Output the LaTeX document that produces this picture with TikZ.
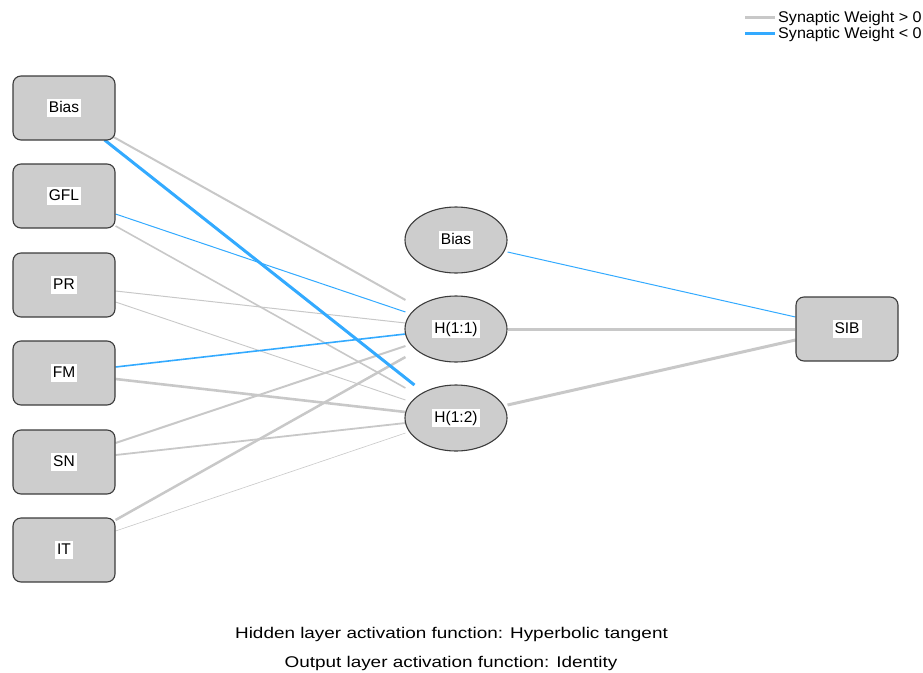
\documentclass[tikz,border=0pt]{standalone}
\usepackage{fontspec}
\setmainfont{Liberation Sans}
\usepackage{graphicx}
\usetikzlibrary{calc,shapes.geometric}
\pgfdeclarelayer{bg}
\pgfsetlayers{bg,main}
\definecolor{nodefill}{RGB}{205,205,205}
\definecolor{nodeline}{RGB}{60,60,60}
\definecolor{poscol}{RGB}{200,200,200}
\definecolor{negcol}{RGB}{51,170,255}
\newcommand{\nlab}[1]{{\setlength{\fboxsep}{2pt}\colorbox{white}{\fontsize{15.5}{17}\selectfont\rule[-3pt]{0pt}{14pt}#1}}}
\tikzset{
  inbox/.style={draw=nodeline, fill=nodefill, line width=1.1pt, rounded corners=8pt,
    minimum width=102pt, minimum height=64pt, inner sep=0pt},
  hidnode/.style={ellipse, draw=nodeline, fill=nodefill, line width=1.1pt,
    minimum width=102pt, minimum height=66pt, inner sep=0pt},
  poswt/.style={draw=poscol},
  negwt/.style={draw=negcol},
  captxt/.style={inner sep=0pt, font=\fontsize{15.5}{18}\selectfont}
}
\begin{document}
\begin{tikzpicture}[x=1pt,y=-1pt]
\useasboundingbox (0,0) rectangle (923,672);
% input layer
\node[inbox] (iBias) at (64,108) {\nlab{Bias}};
\node[inbox] (iGFL) at (64,196) {\nlab{GFL}};
\node[inbox] (iPR) at (64,285) {\nlab{PR}};
\node[inbox] (iFM) at (64,373) {\nlab{FM}};
\node[inbox] (iSN) at (64,462) {\nlab{SN}};
\node[inbox] (iIT) at (64,550) {\nlab{IT}};
% hidden layer
\node[hidnode] (hBias) at (456,240) {\nlab{Bias}};
\node[hidnode] (h1) at (456,329) {\nlab{H(1:1)}};
\node[hidnode] (h2) at (456,418) {\nlab{H(1:2)}};
% output
\node[inbox] (oSIB) at (847,329) {\nlab{SIB}};
\begin{pgfonlayer}{bg}
% input -> hidden
\draw[poswt, line width=2pt] ($(iBias.east)+(-2,29)$) -- ($(h1.west)+(1,-29)$);
\draw[poswt, line width=1.6pt] ($(iGFL.east)+(0,30)$) -- ($(h2.west)+(1,-30)$);
\draw[poswt, line width=1pt] ($(iPR.east)+(0,6)$) -- ($(h1.west)+(1,-6)$);
\draw[poswt, line width=0.9pt] ($(iPR.east)+(0,17)$) -- ($(h2.west)+(1,-18)$);
\draw[poswt, line width=2.6pt] ($(iFM.east)+(0,6)$) -- ($(h2.west)+(1,-6)$);
\draw[poswt, line width=2pt] ($(iSN.east)+(0,-19)$) -- ($(h1.west)+(1,17)$);
\draw[poswt, line width=1.8pt] ($(iSN.east)+(0,-7)$) -- ($(h2.west)+(1,5)$);
\draw[poswt, line width=2.5pt] ($(iIT.east)+(0,-30)$) -- ($(h1.west)+(1,28)$);
\draw[poswt, line width=0.6pt] ($(iIT.east)+(0,-19)$) -- ($(h2.west)+(1,15)$);
\draw[negwt, line width=1pt] ($(iGFL.east)+(0,18)$) -- ($(h1.west)+(1,-17)$);
\draw[negwt, line width=1.6pt] ($(iFM.east)+(0,-6)$) -- ($(h1.west)+(1,5)$);
\draw[negwt, line width=3pt] ($(iBias.east)+(-11,32)$) -- ($(h2.west)+(10,-33)$);
% hidden -> output
\draw[poswt, line width=3pt] (h1.east) -- (oSIB.west);
\draw[poswt, line width=3pt] ($(h2.east)+(0,-13)$) -- ($(oSIB.west)+(0,11)$);
\draw[negwt, line width=1pt] ($(hBias.east)+(0,12)$) -- ($(oSIB.west)+(0,-12)$);
\end{pgfonlayer}
% legend
\coordinate (lg1a) at (745,17);
\coordinate (lg1b) at (775,17);
\coordinate (lg2a) at (745,33);
\coordinate (lg2b) at (775,33);
\draw[poswt, line width=3pt] (lg1a) -- (lg1b);
\draw[negwt, line width=3pt] (lg2a) -- (lg2b);
\node[captxt, anchor=west] (lgt1) at (778,18) {\scalebox{1.04}[1]{Synaptic Weight > 0}};
\node[captxt, anchor=west] (lgt2) at (778,34) {\scalebox{1.04}[1]{Synaptic Weight < 0}};
% captions
\node[captxt] (cap1) at (451.5,634) {\scalebox{1.22}[1]{Hidden layer activation function: Hyperbolic tangent}};
\node[captxt] (cap2) at (451,663) {\scalebox{1.22}[1]{Output layer activation function: Identity}};
\end{tikzpicture}
\end{document}
